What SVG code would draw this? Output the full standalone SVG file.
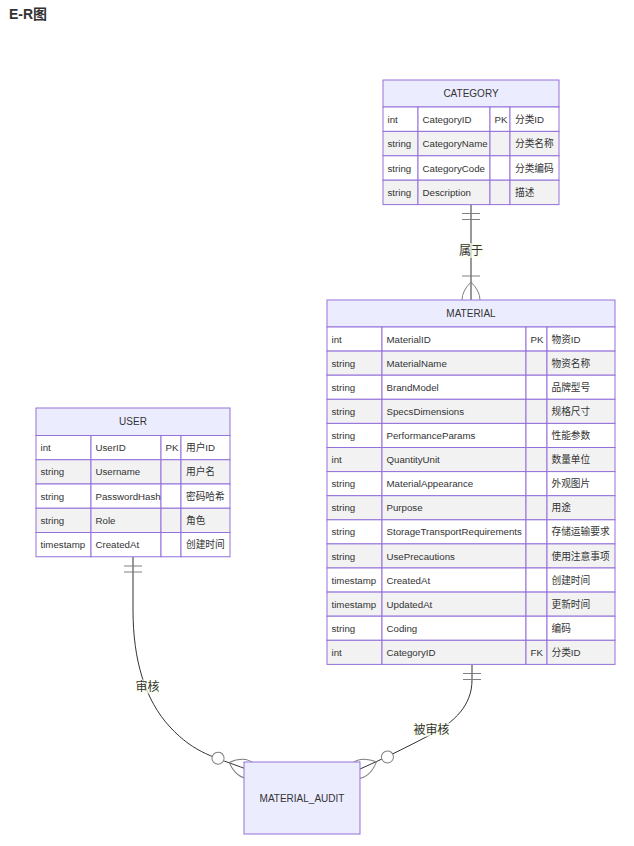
<svg xmlns="http://www.w3.org/2000/svg" width="634" height="846" viewBox="0 0 634 846">
<style>
.t{font-family:"Liberation Sans",Arial,"Noto Sans CJK SC",sans-serif;font-size:9.7px;fill:#333;dominant-baseline:central}
.h{text-anchor:middle;font-size:10px}
.hd{fill:#ECECFF;stroke:#9370DB;stroke-width:1}
.o{fill:#ffffff;stroke:#9370DB;stroke-width:1}
.e{fill:#f2f2f2;stroke:#9370DB;stroke-width:1}
.ln{fill:none;stroke:#333;stroke-width:1}
.mk{fill:none;stroke:gray;stroke-width:1}
.lb{fill:#f9ffec;opacity:0.7}
.lt{font-family:"Liberation Sans",Arial,"Noto Sans CJK SC",sans-serif;font-size:12px;fill:#333;text-anchor:middle;dominant-baseline:central}
.title{font-family:"Liberation Sans",Arial,"Noto Sans CJK SC",sans-serif;font-size:14px;font-weight:bold;fill:#333}
</style>
<defs>
<marker id="oneStart" refX="0" refY="9" markerWidth="18" markerHeight="18" orient="auto" markerUnits="userSpaceOnUse">
<path class="mk" d="M9,0 L9,18 M15,0 L15,18"/>
</marker>
<marker id="oneMoreEnd" refX="27" refY="18" markerWidth="45" markerHeight="36" orient="auto" markerUnits="userSpaceOnUse">
<path class="mk" d="M3,9 L3,27 M9,18 Q27,0 45,18 Q27,36 9,18"/>
</marker>
<marker id="zeroMoreEnd" refX="39" refY="18" markerWidth="57" markerHeight="36" orient="auto" markerUnits="userSpaceOnUse">
<circle cx="9" cy="18" r="6" fill="#fff" stroke="gray" stroke-width="1"/>
<path class="mk" d="M21,18 Q39,0 57,18 Q39,36 21,18"/>
</marker>
</defs>
<rect width="634" height="846" fill="#fff"/>
<text class="title" x="9" y="19">E-R图</text>

<g id="connectors">
<path class="ln" d="M471,204.5 L471,300" marker-start="url(#oneStart)" marker-end="url(#oneMoreEnd)"/>
<path class="ln" d="M133,557 L133,610 C133,660 145,700 170,727 S215,757 246,769" marker-start="url(#oneStart)" marker-end="url(#zeroMoreEnd)"/>
<path class="ln" d="M472,664.5 L472,680 C472,705 455,722 430,735 S385,758 360,769" marker-start="url(#oneStart)" marker-end="url(#zeroMoreEnd)"/>
<rect class="lb" x="459" y="243" width="24" height="15"/>
<text class="lt" x="471" y="250.5">属于</text>
<rect class="lb" x="135.5" y="679.5" width="24" height="14"/>
<text class="lt" x="147.5" y="686.5">审核</text>
<rect class="lb" x="413.5" y="722.5" width="36" height="14"/>
<text class="lt" x="431.5" y="729.5">被审核</text>
</g>

<g id="CATEGORY">
<rect class="hd" x="383" y="80" width="176" height="27"/>
<text class="t h" x="471" y="93.5">CATEGORY</text>
<rect class="o" x="383" y="107" width="35" height="24.4"/><rect class="o" x="418" y="107" width="72" height="24.4"/><rect class="o" x="490" y="107" width="20" height="24.4"/><rect class="o" x="510" y="107" width="49" height="24.4"/>
<text class="t" x="387.5" y="119.2">int</text><text class="t" x="422.5" y="119.2">CategoryID</text><text class="t" x="494.5" y="119.2">PK</text><text class="t" x="515" y="119.2">分类ID</text>
<rect class="e" x="383" y="131.4" width="35" height="24.4"/><rect class="e" x="418" y="131.4" width="72" height="24.4"/><rect class="e" x="490" y="131.4" width="20" height="24.4"/><rect class="e" x="510" y="131.4" width="49" height="24.4"/>
<text class="t" x="387.5" y="143.6">string</text><text class="t" x="422.5" y="143.6">CategoryName</text><text class="t" x="515" y="143.6">分类名称</text>
<rect class="o" x="383" y="155.8" width="35" height="24.4"/><rect class="o" x="418" y="155.8" width="72" height="24.4"/><rect class="o" x="490" y="155.8" width="20" height="24.4"/><rect class="o" x="510" y="155.8" width="49" height="24.4"/>
<text class="t" x="387.5" y="168">string</text><text class="t" x="422.5" y="168">CategoryCode</text><text class="t" x="515" y="168">分类编码</text>
<rect class="e" x="383" y="180.2" width="35" height="24.4"/><rect class="e" x="418" y="180.2" width="72" height="24.4"/><rect class="e" x="490" y="180.2" width="20" height="24.4"/><rect class="e" x="510" y="180.2" width="49" height="24.4"/>
<text class="t" x="387.5" y="192.4">string</text><text class="t" x="422.5" y="192.4">Description</text><text class="t" x="515" y="192.4">描述</text>
</g>

<g id="MATERIAL">
<rect class="hd" x="327" y="300" width="288" height="27"/>
<text class="t h" x="471" y="313.5">MATERIAL</text>
<rect class="o" x="327" y="327" width="55" height="24.1"/><rect class="o" x="382" y="327" width="144" height="24.1"/><rect class="o" x="526" y="327" width="21" height="24.1"/><rect class="o" x="547" y="327" width="68" height="24.1"/>
<text class="t" x="331.5" y="339">int</text><text class="t" x="386.5" y="339">MaterialID</text><text class="t" x="530.5" y="339">PK</text><text class="t" x="551.5" y="339">物资ID</text>
<rect class="e" x="327" y="351.1" width="55" height="24.1"/><rect class="e" x="382" y="351.1" width="144" height="24.1"/><rect class="e" x="526" y="351.1" width="21" height="24.1"/><rect class="e" x="547" y="351.1" width="68" height="24.1"/>
<text class="t" x="331.5" y="363.2">string</text><text class="t" x="386.5" y="363.2">MaterialName</text><text class="t" x="551.5" y="363.2">物资名称</text>
<rect class="o" x="327" y="375.2" width="55" height="24.1"/><rect class="o" x="382" y="375.2" width="144" height="24.1"/><rect class="o" x="526" y="375.2" width="21" height="24.1"/><rect class="o" x="547" y="375.2" width="68" height="24.1"/>
<text class="t" x="331.5" y="387.3">string</text><text class="t" x="386.5" y="387.3">BrandModel</text><text class="t" x="551.5" y="387.3">品牌型号</text>
<rect class="e" x="327" y="399.3" width="55" height="24.1"/><rect class="e" x="382" y="399.3" width="144" height="24.1"/><rect class="e" x="526" y="399.3" width="21" height="24.1"/><rect class="e" x="547" y="399.3" width="68" height="24.1"/>
<text class="t" x="331.5" y="411.4">string</text><text class="t" x="386.5" y="411.4">SpecsDimensions</text><text class="t" x="551.5" y="411.4">规格尺寸</text>
<rect class="o" x="327" y="423.4" width="55" height="24.1"/><rect class="o" x="382" y="423.4" width="144" height="24.1"/><rect class="o" x="526" y="423.4" width="21" height="24.1"/><rect class="o" x="547" y="423.4" width="68" height="24.1"/>
<text class="t" x="331.5" y="435.5">string</text><text class="t" x="386.5" y="435.5">PerformanceParams</text><text class="t" x="551.5" y="435.5">性能参数</text>
<rect class="e" x="327" y="447.5" width="55" height="24.1"/><rect class="e" x="382" y="447.5" width="144" height="24.1"/><rect class="e" x="526" y="447.5" width="21" height="24.1"/><rect class="e" x="547" y="447.5" width="68" height="24.1"/>
<text class="t" x="331.5" y="459.6">int</text><text class="t" x="386.5" y="459.6">QuantityUnit</text><text class="t" x="551.5" y="459.6">数量单位</text>
<rect class="o" x="327" y="471.6" width="55" height="24.1"/><rect class="o" x="382" y="471.6" width="144" height="24.1"/><rect class="o" x="526" y="471.6" width="21" height="24.1"/><rect class="o" x="547" y="471.6" width="68" height="24.1"/>
<text class="t" x="331.5" y="483.7">string</text><text class="t" x="386.5" y="483.7">MaterialAppearance</text><text class="t" x="551.5" y="483.7">外观图片</text>
<rect class="e" x="327" y="495.7" width="55" height="24.1"/><rect class="e" x="382" y="495.7" width="144" height="24.1"/><rect class="e" x="526" y="495.7" width="21" height="24.1"/><rect class="e" x="547" y="495.7" width="68" height="24.1"/>
<text class="t" x="331.5" y="507.8">string</text><text class="t" x="386.5" y="507.8">Purpose</text><text class="t" x="551.5" y="507.8">用途</text>
<rect class="o" x="327" y="519.8" width="55" height="24.1"/><rect class="o" x="382" y="519.8" width="144" height="24.1"/><rect class="o" x="526" y="519.8" width="21" height="24.1"/><rect class="o" x="547" y="519.8" width="68" height="24.1"/>
<text class="t" x="331.5" y="531.9">string</text><text class="t" x="386.5" y="531.9">StorageTransportRequirements</text><text class="t" x="551.5" y="531.9">存储运输要求</text>
<rect class="e" x="327" y="543.9" width="55" height="24.1"/><rect class="e" x="382" y="543.9" width="144" height="24.1"/><rect class="e" x="526" y="543.9" width="21" height="24.1"/><rect class="e" x="547" y="543.9" width="68" height="24.1"/>
<text class="t" x="331.5" y="556">string</text><text class="t" x="386.5" y="556">UsePrecautions</text><text class="t" x="551.5" y="556">使用注意事项</text>
<rect class="o" x="327" y="568" width="55" height="24.1"/><rect class="o" x="382" y="568" width="144" height="24.1"/><rect class="o" x="526" y="568" width="21" height="24.1"/><rect class="o" x="547" y="568" width="68" height="24.1"/>
<text class="t" x="331.5" y="580.1">timestamp</text><text class="t" x="386.5" y="580.1">CreatedAt</text><text class="t" x="551.5" y="580.1">创建时间</text>
<rect class="e" x="327" y="592.1" width="55" height="24.1"/><rect class="e" x="382" y="592.1" width="144" height="24.1"/><rect class="e" x="526" y="592.1" width="21" height="24.1"/><rect class="e" x="547" y="592.1" width="68" height="24.1"/>
<text class="t" x="331.5" y="604.2">timestamp</text><text class="t" x="386.5" y="604.2">UpdatedAt</text><text class="t" x="551.5" y="604.2">更新时间</text>
<rect class="o" x="327" y="616.2" width="55" height="24.1"/><rect class="o" x="382" y="616.2" width="144" height="24.1"/><rect class="o" x="526" y="616.2" width="21" height="24.1"/><rect class="o" x="547" y="616.2" width="68" height="24.1"/>
<text class="t" x="331.5" y="628.3">string</text><text class="t" x="386.5" y="628.3">Coding</text><text class="t" x="551.5" y="628.3">编码</text>
<rect class="e" x="327" y="640.3" width="55" height="24.1"/><rect class="e" x="382" y="640.3" width="144" height="24.1"/><rect class="e" x="526" y="640.3" width="21" height="24.1"/><rect class="e" x="547" y="640.3" width="68" height="24.1"/>
<text class="t" x="331.5" y="652.4">int</text><text class="t" x="386.5" y="652.4">CategoryID</text><text class="t" x="530.5" y="652.4">FK</text><text class="t" x="551.5" y="652.4">分类ID</text>
</g>

<g id="USER">
<rect class="hd" x="36" y="408" width="194" height="27.5"/>
<text class="t h" x="133" y="421.5">USER</text>
<rect class="o" x="36" y="435.5" width="55" height="24.25"/><rect class="o" x="91" y="435.5" width="70" height="24.25"/><rect class="o" x="161" y="435.5" width="20" height="24.25"/><rect class="o" x="181" y="435.5" width="49" height="24.25"/>
<text class="t" x="40.5" y="447.6">int</text><text class="t" x="95.5" y="447.6">UserID</text><text class="t" x="165.5" y="447.6">PK</text><text class="t" x="186" y="447.6">用户ID</text>
<rect class="e" x="36" y="459.75" width="55" height="24.25"/><rect class="e" x="91" y="459.75" width="70" height="24.25"/><rect class="e" x="161" y="459.75" width="20" height="24.25"/><rect class="e" x="181" y="459.75" width="49" height="24.25"/>
<text class="t" x="40.5" y="471.9">string</text><text class="t" x="95.5" y="471.9">Username</text><text class="t" x="186" y="471.9">用户名</text>
<rect class="o" x="36" y="484" width="55" height="24.25"/><rect class="o" x="91" y="484" width="70" height="24.25"/><rect class="o" x="161" y="484" width="20" height="24.25"/><rect class="o" x="181" y="484" width="49" height="24.25"/>
<text class="t" x="40.5" y="496.1">string</text><text class="t" x="95.5" y="496.1">PasswordHash</text><text class="t" x="186" y="496.1">密码哈希</text>
<rect class="e" x="36" y="508.25" width="55" height="24.25"/><rect class="e" x="91" y="508.25" width="70" height="24.25"/><rect class="e" x="161" y="508.25" width="20" height="24.25"/><rect class="e" x="181" y="508.25" width="49" height="24.25"/>
<text class="t" x="40.5" y="520.4">string</text><text class="t" x="95.5" y="520.4">Role</text><text class="t" x="186" y="520.4">角色</text>
<rect class="o" x="36" y="532.5" width="55" height="24.25"/><rect class="o" x="91" y="532.5" width="70" height="24.25"/><rect class="o" x="161" y="532.5" width="20" height="24.25"/><rect class="o" x="181" y="532.5" width="49" height="24.25"/>
<text class="t" x="40.5" y="544.6">timestamp</text><text class="t" x="95.5" y="544.6">CreatedAt</text><text class="t" x="186" y="544.6">创建时间</text>
</g>

<g id="MATERIAL_AUDIT">
<rect class="hd" x="244" y="762" width="116" height="72"/>
<text class="t h" x="302" y="798">MATERIAL_AUDIT</text>
</g>
</svg>
